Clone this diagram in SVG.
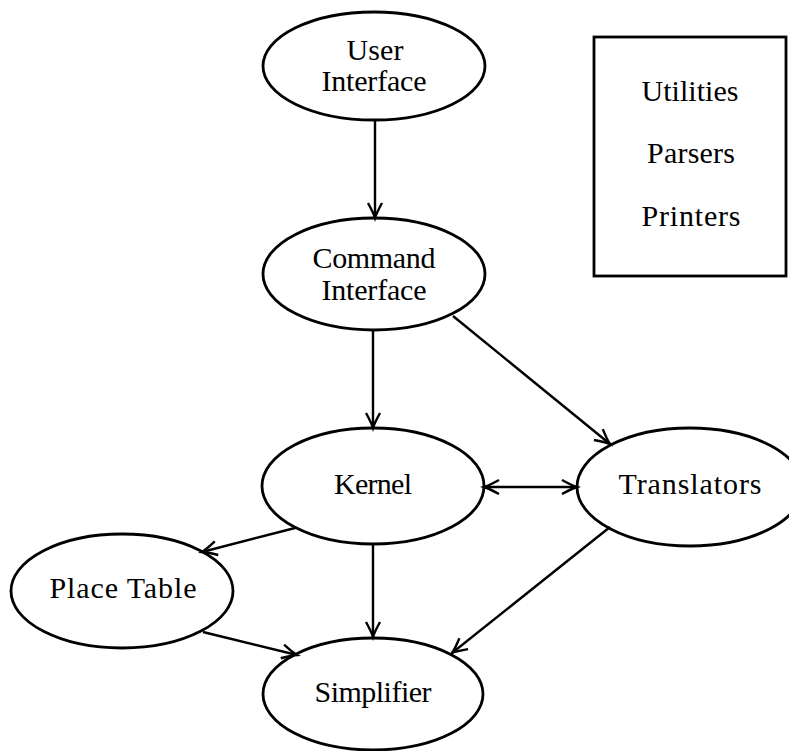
<svg xmlns="http://www.w3.org/2000/svg" width="789" height="751" viewBox="0 0 789 751">
<style>
.node ellipse, .node rect { fill: #fff; stroke: #000; stroke-width: 2.8; }
text { font-family: "Liberation Serif", "Times New Roman", serif; font-size: 30px; fill: #000; text-anchor: middle; }
.edges line { stroke: #000; stroke-width: 2.4; fill: none; marker-end: url(#arr); }
</style>
<defs>
<marker id="arr" markerUnits="userSpaceOnUse" markerWidth="22" markerHeight="22" viewBox="-18 -11 22 22" refX="0" refY="0" orient="auto-start-reverse">
<path d="M -15,-7 Q -5,-1.5 0,0 Q -5,1.5 -15,7" fill="none" stroke="#000" stroke-width="2.4"/>
</marker>
</defs>
<rect width="789" height="751" fill="#fff"/>
<g id="user-interface" class="node">
<ellipse cx="374" cy="66" rx="111" ry="54"/>
<text x="375" y="60" textLength="57">User</text>
<text x="374" y="91" textLength="105">Interface</text>
</g>
<g id="command-interface" class="node">
<ellipse cx="374" cy="274" rx="111" ry="56"/>
<text x="374" y="268" textLength="123">Command</text>
<text x="374" y="300" textLength="105">Interface</text>
</g>
<g id="kernel" class="node">
<ellipse cx="373" cy="486" rx="111" ry="58"/>
<text x="373" y="494" textLength="78">Kernel</text>
</g>
<g id="translators" class="node">
<ellipse cx="690" cy="487" rx="113" ry="59"/>
<text x="690" y="494" textLength="143">Translators</text>
</g>
<g id="place-table" class="node">
<ellipse cx="122" cy="591" rx="111" ry="57"/>
<text x="123" y="598" textLength="147">Place Table</text>
</g>
<g id="simplifier" class="node">
<ellipse cx="373" cy="694" rx="110" ry="56"/>
<text x="373" y="702" textLength="117">Simplifier</text>
</g>
<g id="utilities-box" class="node">
<rect x="594" y="37" width="192" height="239"/>
<text x="690" y="101" textLength="97">Utilities</text>
<text x="691" y="163" textLength="88">Parsers</text>
<text x="691" y="226" textLength="99">Printers</text>
</g>
<g id="connectors" class="edges">
<line x1="375" y1="120" x2="375" y2="218"/>
<line x1="373" y1="330" x2="373" y2="428"/>
<line x1="453" y1="316" x2="610" y2="444"/>
<line x1="484" y1="487" x2="577" y2="487" style="marker-start:url(#arr)"/>
<line x1="295" y1="528" x2="202" y2="552"/>
<line x1="373" y1="544" x2="373" y2="637"/>
<line x1="203" y1="632" x2="297" y2="655"/>
<line x1="610" y1="527" x2="452" y2="653"/>
</g>
</svg>
